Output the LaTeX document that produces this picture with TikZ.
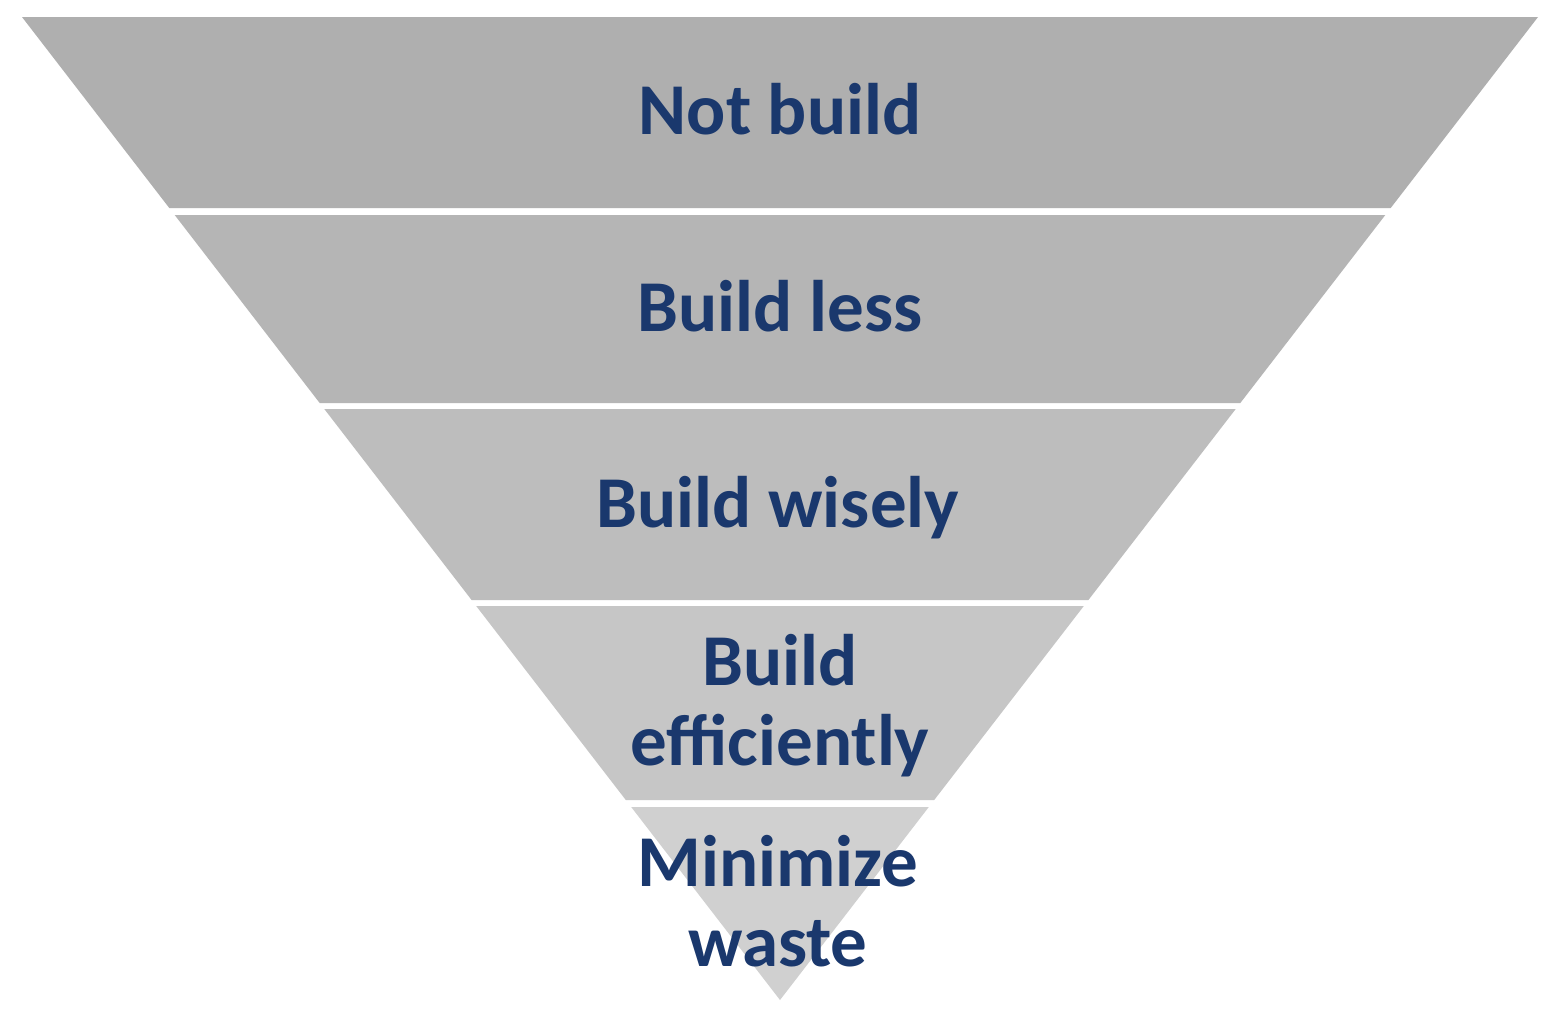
\documentclass[tikz,border=0pt]{standalone}
\usepackage{fontspec}
\setmainfont{Carlito}
\definecolor{txtblue}{HTML}{1A386D}
\definecolor{bandA}{HTML}{AFAFAF}
\definecolor{bandB}{HTML}{B5B5B5}
\definecolor{bandC}{HTML}{BDBDBD}
\definecolor{bandD}{HTML}{C6C6C6}
\definecolor{bandE}{HTML}{D0D0D0}
\tikzset{
  band/.style={draw=none},
  lbl/.style={text=txtblue, font=\fontsize{73}{80}\selectfont\bfseries, align=center, inner sep=0pt, anchor=base}
}
\begin{document}
\begin{tikzpicture}[x=1pt,y=-1pt]
\useasboundingbox (0,0) rectangle (1558,1031);
\fill[white] (0,0) rectangle (1558,1031);
\fill[bandA,band] (22,17) -- (1538,17) -- (1390.7,208) -- (169.3,208) -- cycle;
\fill[bandB,band] (174.7,215) -- (1385.3,215) -- (1240.3,403) -- (319.7,403) -- cycle;
\fill[bandC,band] (324.3,409) -- (1235.7,409) -- (1088.4,600) -- (471.6,600) -- cycle;
\fill[bandD,band] (476.2,606) -- (1083.8,606) -- (934.2,800) -- (625.8,800) -- cycle;
\fill[bandE,band] (631.2,807) -- (928.8,807) -- (780,1000) -- cycle;
\node[lbl] (t1) at (780,134) {Not build};
\node[lbl] (t2) at (780,331) {Build less};
\node[lbl] (t3) at (778,527) {Build wisely};
\node[lbl] (t4) at (780,765) {Build\\efficiently};
\node[lbl] (t5) at (778,966) {Minimize\\waste};
\end{tikzpicture}
\end{document}
